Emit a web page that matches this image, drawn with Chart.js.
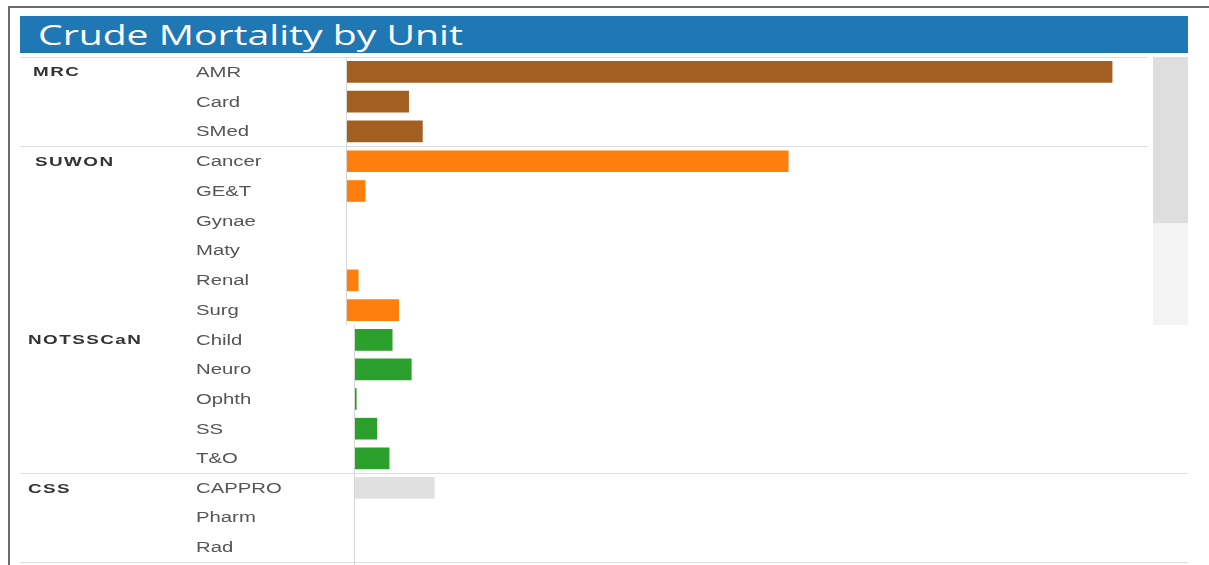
<!DOCTYPE html>
<html>
<head>
<meta charset="utf-8">
<script src="https://cdn.jsdelivr.net/npm/chart.js@4/dist/chart.umd.min.js"></script>
<style>
	body { margin: 0; background: #ffffff; width: 1209px; height: 565px; overflow: hidden; position: relative; font-family: "Liberation Sans", Arial, sans-serif; }
	#frame { position: absolute; left: 8px; top: 6px; right: 0; bottom: 0; border-top: 2px solid #6b6b6b; border-left: 2px solid #6b6b6b; }
	#title { position: absolute; left: 20px; top: 16px; width: 1168px; height: 37px; background: #1f77b4; }
	#title span { position: absolute; left: 18px; top: 0; color: #ffffff; font-family: "Open Sans", "Noto Sans", sans-serif; font-size: 27px; line-height: 37px; transform: scaleX(1.45); transform-origin: left center; white-space: nowrap; }
	.panel { position: absolute; }
	#toppanel { left: 20px; top: 57px; width: 1128px; height: 268px; }
	#bottompanel { left: 20px; top: 325px; width: 1168px; height: 240px; }
	#scrolltrack { position: absolute; left: 1153px; top: 57px; width: 35px; height: 268px; background: #f3f3f3; }
	#scrollthumb { position: absolute; left: 0; top: 0; width: 35px; height: 166px; background: #dedede; }
</style>
</head>
<body>
<div id="frame"></div>
<div id="title"><span>Crude Mortality by Unit</span></div>
<div class="panel" id="toppanel"><canvas id="topchart"></canvas></div>
<div class="panel" id="bottompanel"><canvas id="bottomchart"></canvas></div>
<div id="scrolltrack"><div id="scrollthumb"></div></div>

<script>
// Data (crude mortality, per unit)
const groups = ['MRC', 'SUWON', 'NOTSSCaN', 'CSS'];
const groupColours = ['#a25f1f', '#ff7f0e', '#2ca02c', '#e0e0e0'];
const units = ['AMR', 'Card', 'SMed', 'Cancer', 'GE&T', 'Gynae', 'Maty', 'Renal', 'Surg', 'Child', 'Neuro', 'Ophth', 'SS', 'T&O', 'CAPPRO', 'Pharm', 'Rad'];
const unitGroups = ['MRC', 'MRC', 'MRC', 'SUWON', 'SUWON', 'SUWON', 'SUWON', 'SUWON', 'SUWON', 'NOTSSCaN', 'NOTSSCaN', 'NOTSSCaN', 'NOTSSCaN', 'NOTSSCaN', 'CSS', 'CSS', 'CSS'];
const mortality = [10.03, 0.82, 1.0, 5.79, 0.25, 0, 0, 0.16, 0.69, 0.5, 0.75, 0.03, 0.3, 0.46, 1.05, 0, 0];

// Top view holds MRC and SUWON, bottom view the rest
const topCount = 9;

// The reference text is wide, so labels are stretched horizontally
const textStretch = 1.45;

// Draw text stretched horizontally from its left edge
function drawWideText (ctx, text, x, y)
{
	ctx.save();
	ctx.translate(x, y);
	ctx.scale(textStretch, 1);
	ctx.fillText(text, 0, 0);
	ctx.restore();
}

// Plugin drawing group / unit labels and separators
const rowLabels = {
	id: 'rowLabels',
	afterDraw (chart, args, opts) {
		const ctx = chart.ctx;
		const yScale = chart.scales.y;
		const area = chart.chartArea;
		const labels = chart.data.labels;
		const rowGroups = opts.groups;
		const step = yScale.getPixelForValue(1) - yScale.getPixelForValue(0);
		ctx.save();
		ctx.textBaseline = 'middle';
		labels.forEach((label, i) => {
			const y = yScale.getPixelForValue(i);
			ctx.fillStyle = '#555555';
			ctx.font = '14px "Liberation Sans", Arial, sans-serif';
			drawWideText(ctx, label, 176, y + 1);
			if (i === 0 || rowGroups[i] !== rowGroups[i - 1]) {
				ctx.fillStyle = '#333333';
				ctx.font = 'bold 13px "Liberation Sans", Arial, sans-serif';
				ctx.letterSpacing = '1px';
				drawWideText(ctx, rowGroups[i], opts.groupX[rowGroups[i]], y + 1);
				ctx.letterSpacing = '0px';
				// Separator above a new group
				if (i > 0 || opts.lineAtTop) {
					const ly = Math.round(y - step / 2) + 0.5;
					ctx.strokeStyle = '#dddddd';
					ctx.lineWidth = 1;
					ctx.beginPath();
					ctx.moveTo(opts.lineStart[rowGroups[i]], ly);
					ctx.lineTo(chart.width, ly);
					ctx.stroke();
				}
			}
		});
		// Closing separator
		if (opts.lineAtBottom) {
			const ly = Math.round(area.bottom) + 0.5;
			ctx.strokeStyle = '#dddddd';
			ctx.beginPath();
			ctx.moveTo(opts.bottomLineStart, ly);
			ctx.lineTo(chart.width, ly);
			ctx.stroke();
		}
		// Zero line
		ctx.strokeStyle = '#d6d6d6';
		ctx.beginPath();
		const zx = Math.round(chart.scales.x.getPixelForValue(0)) + 0.5;
		ctx.moveTo(zx, area.top);
		ctx.lineTo(zx, chart.height);
		ctx.stroke();
		ctx.restore();
	}
};

// Function to render one view of the chart
function renderChart (canvasId, first, last, leftPad, rightPad, bottomPad, labelOpts)
{
	const labels = units.slice(first, last);
	const values = mortality.slice(first, last);
	const rowGroups = unitGroups.slice(first, last);
	const colours = rowGroups.map(g => groupColours[groups.indexOf(g)]);
	return new Chart(document.getElementById(canvasId).getContext('2d'), {
		type: 'bar',
		data: {
			labels: labels,
			datasets: [{
				data: values,
				backgroundColor: colours,
				borderWidth: 0,
				barThickness: 21
			}]
		},
		options: {
			indexAxis: 'y',
			responsive: true,
			maintainAspectRatio: false,
			animation: false,
			layout: { padding: { left: leftPad, right: rightPad, top: 0, bottom: bottomPad } },
			scales: {
				x: { display: false, min: 0, max: 10.5 },
				y: { display: false }
			},
			plugins: {
				legend: { display: false },
				tooltip: { enabled: false },
				rowLabels: Object.assign({ groups: rowGroups }, labelOpts)
			}
		},
		plugins: [rowLabels]
	});
}

renderChart('topchart', 0, topCount, 326, 0, 0, {
	groupX: { MRC: 13, SUWON: 15 },
	lineStart: { MRC: 0, SUWON: 0 },
	lineAtTop: true,
	lineAtBottom: true,
	bottomLineStart: 326
});

renderChart('bottomchart', topCount, units.length, 334, 32, 3, {
	groupX: { NOTSSCaN: 8, CSS: 8 },
	lineStart: { NOTSSCaN: 334, CSS: 0 },
	lineAtTop: false,
	lineAtBottom: true,
	bottomLineStart: 0
});
</script>
</body>
</html>
